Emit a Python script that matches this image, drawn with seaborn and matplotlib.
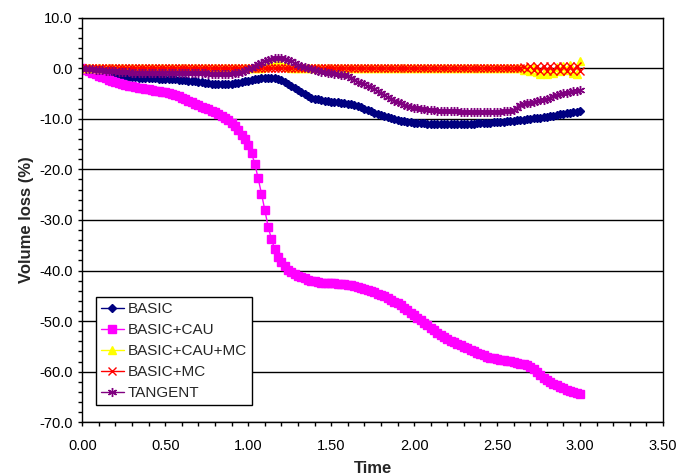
import matplotlib
matplotlib.use("Agg")
import matplotlib.pyplot as plt
from matplotlib.ticker import MultipleLocator, FormatStrFormatter
import seaborn as sns
import pandas as pd

time = [0.00,
        0.02, 0.04, 0.06, 0.08, 0.10,
        0.12, 0.14, 0.16, 0.18, 0.20,
        0.22, 0.24, 0.26, 0.28, 0.30,
        0.32, 0.34, 0.36, 0.38, 0.40,
        0.42, 0.44, 0.46, 0.48, 0.50,
        0.52, 0.54, 0.56, 0.58, 0.60,
        0.62, 0.64, 0.66, 0.68, 0.70,
        0.72, 0.74, 0.76, 0.78, 0.80,
        0.82, 0.84, 0.86, 0.88, 0.90,
        0.92, 0.94, 0.96, 0.98, 1.00,
        1.02, 1.04, 1.06, 1.08, 1.10,
        1.12, 1.14, 1.16, 1.18, 1.20,
        1.22, 1.24, 1.26, 1.28, 1.30,
        1.32, 1.34, 1.36, 1.38, 1.40,
        1.42, 1.44, 1.46, 1.48, 1.50,
        1.52, 1.54, 1.56, 1.58, 1.60,
        1.62, 1.64, 1.66, 1.68, 1.70,
        1.72, 1.74, 1.76, 1.78, 1.80,
        1.82, 1.84, 1.86, 1.88, 1.90,
        1.92, 1.94, 1.96, 1.98, 2.00,
        2.02, 2.04, 2.06, 2.08, 2.10,
        2.12, 2.14, 2.16, 2.18, 2.20,
        2.22, 2.24, 2.26, 2.28, 2.30,
        2.32, 2.34, 2.36, 2.38, 2.40,
        2.42, 2.44, 2.46, 2.48, 2.50,
        2.52, 2.54, 2.56, 2.58, 2.60,
        2.62, 2.64, 2.66, 2.68, 2.70,
        2.72, 2.74, 2.76, 2.78, 2.80,
        2.82, 2.84, 2.86, 2.88, 2.90,
        2.92, 2.94, 2.96, 2.98, 3.00]

basic = [0.0,
         -0.2, -0.4, -0.6, -0.8, -1.0,
         -1.1, -1.2, -1.3, -1.4, -1.5,
         -1.56, -1.62, -1.68, -1.74, -1.8,
         -1.84, -1.88, -1.92, -1.96, -2.0,
         -2.02, -2.04, -2.06, -2.08, -2.1,
         -2.14, -2.18, -2.22, -2.26, -2.3,
         -2.38, -2.46, -2.54, -2.62, -2.7,
         -2.8, -2.9, -2.98, -3.05, -3.1,
         -3.15, -3.18, -3.2, -3.17, -3.1,
         -3.0, -2.88, -2.75, -2.62, -2.5,
         -2.37, -2.24, -2.11, -2.0, -1.9,
         -1.85, -1.85, -1.9, -2.05, -2.3,
         -2.65, -3.05, -3.5, -3.95, -4.4,
         -4.8, -5.2, -5.5, -5.8, -6.0,
         -6.15, -6.3, -6.4, -6.5, -6.6,
         -6.68, -6.76, -6.84, -6.92, -7.0,
         -7.15, -7.35, -7.55, -7.75, -8.0,
         -8.25, -8.5, -8.8, -9.05, -9.3,
         -9.5, -9.7, -9.9, -10.1, -10.3,
         -10.4, -10.5, -10.6, -10.7, -10.8,
         -10.85, -10.9, -10.93, -10.97, -11.0,
         -11.0, -11.0, -11.0, -11.0, -11.0,
         -11.0, -11.0, -11.0, -11.0, -11.0,
         -10.98, -10.96, -10.94, -10.92, -10.9,
         -10.86, -10.82, -10.78, -10.74, -10.7,
         -10.64, -10.58, -10.52, -10.46, -10.4,
         -10.32, -10.24, -10.16, -10.08, -10.0,
         -9.92, -9.84, -9.76, -9.68, -9.6,
         -9.48, -9.36, -9.24, -9.12, -9.0,
         -8.9, -8.8, -8.7, -8.6, -8.5]

basic_cau = [0.0,
             -0.3, -0.6, -0.9, -1.2, -1.5,
             -1.75, -2.0, -2.25, -2.5, -2.7,
             -2.9, -3.1, -3.3, -3.45, -3.6,
             -3.72, -3.84, -3.96, -4.08, -4.2,
             -4.3, -4.42, -4.54, -4.67, -4.8,
             -4.97, -5.15, -5.35, -5.56, -5.8,
             -6.1, -6.4, -6.7, -7.0, -7.3,
             -7.58, -7.86, -8.14, -8.42, -8.7,
             -9.05, -9.45, -9.85, -10.3, -10.8,
             -11.5, -12.3, -13.2, -14.1, -15.2,
             -16.8, -18.9, -21.8, -24.8, -28.0,
             -31.3, -33.8, -35.8, -37.3, -38.4,
             -39.2, -39.8, -40.3, -40.7, -41.0,
             -41.3, -41.55, -41.8, -42.0, -42.15,
             -42.3, -42.4, -42.45, -42.5, -42.5,
             -42.55, -42.6, -42.65, -42.7, -42.8,
             -42.95, -43.1, -43.25, -43.4, -43.6,
             -43.8, -44.05, -44.3, -44.55, -44.8,
             -45.1, -45.45, -45.8, -46.15, -46.5,
             -46.9, -47.35, -47.8, -48.3, -48.8,
             -49.3, -49.8, -50.3, -50.85, -51.4,
             -51.85, -52.3, -52.75, -53.2, -53.6,
             -53.9, -54.2, -54.5, -54.8, -55.1,
             -55.4, -55.7, -56.0, -56.3, -56.6,
             -56.8, -57.0, -57.2, -57.35, -57.5,
             -57.62, -57.74, -57.86, -57.98, -58.1,
             -58.25, -58.4, -58.55, -58.75, -59.0,
             -59.5, -60.1, -60.7, -61.2, -61.7,
             -62.1, -62.4, -62.7, -63.0, -63.3,
             -63.55, -63.8, -64.05, -64.3, -64.5]

basic_cau_mc = [0.0,
                0.0, 0.0, 0.0, 0.0, 0.0,      # 0.02-0.10
                0.0, 0.0, 0.0, 0.0, 0.0,      # 0.12-0.20
                0.0, 0.0, 0.0, 0.0, 0.0,      # 0.22-0.30
                0.0, 0.0, 0.0, 0.0, 0.0,      # 0.32-0.40
                0.0, 0.0, 0.0, 0.0, 0.0,      # 0.42-0.50
                0.0, 0.0, 0.0, 0.0, 0.0,      # 0.52-0.60
                0.0, 0.0, 0.0, 0.0, 0.0,      # 0.62-0.70
                0.0, 0.0, 0.0, 0.0, 0.0,      # 0.72-0.80
                0.0, 0.0, 0.0, 0.0, 0.0,      # 0.82-0.90
                0.0, 0.0, 0.0, 0.0, 0.0,      # 0.92-1.00
                0.0, 0.0, 0.0, 0.1, 0.3,      # 1.02-1.10
                0.6, 0.8, 0.9, 0.9, 0.8,      # 1.12-1.20
                0.6, 0.3, 0.1, 0.0, 0.0,      # 1.22-1.30
                0.0, 0.0, 0.0, 0.0, 0.0,      # 1.32-1.40
                0.0, 0.0, 0.0, 0.0, 0.0,      # 1.42-1.50
                0.0, 0.0, 0.0, 0.0, 0.0,      # 1.52-1.60
                0.0, 0.0, 0.0, 0.0, 0.0,      # 1.62-1.70
                0.0, 0.0, 0.0, 0.0, 0.0,      # 1.72-1.80
                0.0, 0.0, 0.0, 0.0, 0.0,      # 1.82-1.90
                0.0, 0.0, 0.0, 0.0, 0.0,      # 1.92-2.00
                0.0, 0.0, 0.0, 0.0, 0.0,      # 2.02-2.10
                0.0, 0.0, 0.0, 0.0, 0.0,      # 2.12-2.20
                0.0, 0.0, 0.0, 0.0, 0.0,      # 2.22-2.30
                0.0, 0.0, 0.0, 0.0, 0.0,      # 2.32-2.40
                0.0, 0.0, 0.0, 0.0, 0.0,      # 2.42-2.50
                0.0, 0.0, 0.0, 0.0, 0.0,      # 2.52-2.60
                0.0, 0.0, -0.3, 0.2, -0.5,    # 2.62-2.70
                0.3, -0.8, -1.1, -1.0, -1.1,  # 2.72-2.80
                -0.7, -1.0, 0.2, -0.6, 0.5,   # 2.82-2.90
                -0.4, 0.6, -0.9, -1.2, 1.5]   # 2.92-3.00

basic_mc = [0.0,
            0.0, 0.0, 0.0, 0.0, 0.0,      # 0.02-0.10
            0.0, 0.0, 0.0, 0.0, 0.0,      # 0.12-0.20
            0.0, 0.0, 0.0, 0.0, 0.0,      # 0.22-0.30
            0.0, 0.0, 0.0, 0.0, 0.0,      # 0.32-0.40
            0.0, 0.0, 0.0, 0.0, 0.0,      # 0.42-0.50
            0.0, 0.0, 0.0, 0.0, 0.0,      # 0.52-0.60
            0.0, 0.0, 0.0, 0.0, 0.0,      # 0.62-0.70
            0.0, 0.0, 0.0, 0.0, 0.0,      # 0.72-0.80
            0.0, 0.0, 0.0, 0.0, 0.0,      # 0.82-0.90
            0.0, 0.0, 0.0, 0.0, 0.0,      # 0.92-1.00
            0.0, 0.0, 0.0, 0.0, 0.0,      # 1.02-1.10
            0.0, 0.0, 0.0, 0.0, 0.0,      # 1.12-1.20
            0.0, 0.0, 0.0, 0.0, 0.0,      # 1.22-1.30
            0.0, 0.0, 0.0, 0.0, 0.0,      # 1.32-1.40
            0.0, 0.0, 0.0, 0.0, 0.0,      # 1.42-1.50
            0.0, 0.0, 0.0, 0.0, 0.0,      # 1.52-1.60
            0.0, 0.0, 0.0, 0.0, 0.0,      # 1.62-1.70
            0.0, 0.0, 0.0, 0.0, 0.0,      # 1.72-1.80
            0.0, 0.0, 0.0, 0.0, 0.0,      # 1.82-1.90
            0.0, 0.0, 0.0, 0.0, 0.0,      # 1.92-2.00
            0.0, 0.0, 0.0, 0.0, 0.0,      # 2.02-2.10
            0.0, 0.0, 0.0, 0.0, 0.0,      # 2.12-2.20
            0.0, 0.0, 0.0, 0.0, 0.0,      # 2.22-2.30
            0.0, 0.0, 0.0, 0.0, 0.0,      # 2.32-2.40
            0.0, 0.0, 0.0, 0.0, 0.0,      # 2.42-2.50
            0.0, 0.0, 0.0, 0.0, 0.0,      # 2.52-2.60
            0.0, 0.0, 0.2, -0.2, 0.4,     # 2.62-2.70
            -0.4, 0.5, -0.5, 0.5, -0.5,   # 2.72-2.80
            0.5, -0.5, 0.5, -0.5, 0.5,    # 2.82-2.90
            -0.5, 0.5, -0.5, 0.5, -0.5]   # 2.92-3.00

tangent = [0.0,
           -0.1, -0.2, -0.25, -0.3, -0.4,
           -0.45, -0.5, -0.55, -0.6, -0.65,
           -0.7, -0.75, -0.8, -0.85, -0.9,
           -0.92, -0.95, -0.98, -1.0, -1.0,
           -0.98, -0.95, -0.92, -0.9, -0.9,
           -0.9, -0.9, -0.9, -0.9, -0.9,
           -0.92, -0.94, -0.96, -0.98, -1.0,
           -1.02, -1.04, -1.06, -1.08, -1.1,
           -1.12, -1.15, -1.18, -1.2, -1.15,
           -1.05, -0.9, -0.7, -0.5, -0.25,
           0.05, 0.4, 0.75, 1.1, 1.4,
           1.65, 1.85, 2.0, 2.05, 2.0,
           1.9, 1.7, 1.4, 1.0, 0.6,
           0.35, 0.15, 0.0, -0.2, -0.4,
           -0.55, -0.7, -0.8, -0.9, -1.0,
           -1.1, -1.2, -1.3, -1.45, -1.6,
           -1.9, -2.3, -2.65, -2.95, -3.2,
           -3.5, -3.8, -4.2, -4.6, -5.0,
           -5.35, -5.7, -6.05, -6.4, -6.7,
           -6.95, -7.2, -7.4, -7.6, -7.8,
           -7.9, -8.0, -8.1, -8.2, -8.3,
           -8.34, -8.38, -8.42, -8.46, -8.5,
           -8.52, -8.54, -8.56, -8.58, -8.6,
           -8.6, -8.6, -8.6, -8.6, -8.6,
           -8.6, -8.6, -8.6, -8.6, -8.6,
           -8.6, -8.55, -8.5, -8.45, -8.35,
           -7.8, -7.2, -7.0, -6.9, -6.8,
           -6.65, -6.5, -6.35, -6.2, -6.0,
           -5.8, -5.6, -5.4, -5.2, -5.0,
           -4.85, -4.7, -4.55, -4.45, -4.3]

series_names = ["BASIC", "BASIC+CAU", "BASIC+CAU+MC", "BASIC+MC", "TANGENT"]
series_values = [basic, basic_cau, basic_cau_mc, basic_mc, tangent]
series_colors = ["#000080", "#FF00FF", "#FFFF00", "#FF0000", "#800080"]
series_markers = ["D", "s", "^", "x", (6, 2, 0)]
series_msize = [4.5, 5.5, 5.5, 5.5, 6.5]

x_ticks = [0.0, 0.5, 1.0, 1.5, 2.0, 2.5, 3.0, 3.5]
y_ticks = [10, 0, -10, -20, -30, -40, -50, -60, -70]

sns.set_style("white")
plt.rcParams["font.family"] = ["Liberation Sans", "DejaVu Sans"]

fig = plt.figure(figsize=(6.79, 4.75), dpi=100)
ax = fig.add_axes([0.1212, 0.111, 0.8552, 0.852])

for name, vals, col, mk, ms in zip(series_names, series_values, series_colors,
                                   series_markers, series_msize):
    df = pd.DataFrame({"Time": time, "Volume": vals})
    sns.lineplot(data=df, x="Time", y="Volume", ax=ax, color=col, marker=mk,
                 markersize=ms, markeredgecolor=col, markerfacecolor=col,
                 markeredgewidth=1.0, linewidth=1.0, label=name, sort=False)

ax.set_xlim(0, 3.5)
ax.set_ylim(-70, 10)
ax.set_xticks(x_ticks)
ax.set_yticks(y_ticks)
ax.xaxis.set_major_formatter(FormatStrFormatter("%.2f"))
ax.yaxis.set_major_formatter(FormatStrFormatter("%.1f"))
ax.xaxis.set_minor_locator(MultipleLocator(0.1))
ax.yaxis.set_minor_locator(MultipleLocator(2))
ax.tick_params(axis="both", which="both", direction="out", length=3, width=1,
               color="black", labelsize=10.5, labelcolor="black")
ax.tick_params(axis="x", which="major", pad=9)
ax.tick_params(axis="y", which="major", pad=4)
ax.tick_params(axis="x", which="both", bottom=True)
ax.tick_params(axis="y", which="both", left=True)
ax.yaxis.grid(True, which="major", color="black", linewidth=1.0)
ax.xaxis.grid(False)
ax.set_axisbelow(True)
for sp in ax.spines.values():
    sp.set_visible(True)
    sp.set_color("black")
    sp.set_linewidth(1.0)

ax.set_xlabel("Time", fontsize=12, fontweight="bold", labelpad=6)
ax.set_ylabel("Volume loss (%)", fontsize=12, fontweight="bold", labelpad=4)

leg = ax.legend(loc="upper left", bbox_to_anchor=(0.023, 0.3095),
                borderaxespad=0, frameon=True, fancybox=False, fontsize=11,
                labelspacing=0.45, handlelength=1.5, handletextpad=0.25,
                borderpad=0.35, framealpha=1)
leg.get_frame().set_edgecolor("black")
leg.get_frame().set_linewidth(1.0)

fig.savefig("out.png", dpi=100)
